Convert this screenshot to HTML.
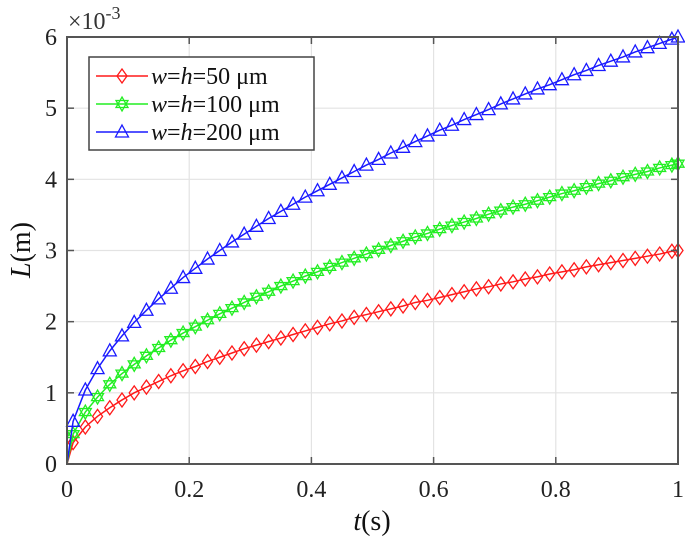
<!DOCTYPE html>
<html><head><meta charset="utf-8"><style>
body{margin:0;background:#fff}
svg{display:block}
svg text{font-family:"Liberation Serif","DejaVu Serif",serif}
</style></head><body>
<svg id="chart" width="685" height="540" viewBox="0 0 685 540" font-family="Liberation Serif, serif">
<g id="grid"></g>
<g id="series"></g>
<rect x="67" y="37" width="611" height="427" fill="none" stroke="#555" stroke-width="2"/>
<g id="ticks" font-size="24" fill="#222"></g>
<text x="68" y="29" font-size="24" fill="#333">×10<tspan font-size="18" dy="-10">-3</tspan></text>
<text transform="translate(30,250) rotate(-90)" text-anchor="middle" font-size="28" fill="#111"><tspan font-style="italic">L</tspan>(m)</text>
<text x="372" y="530" text-anchor="middle" font-size="28" fill="#111"><tspan font-style="italic">t</tspan>(s)</text>
<g>
<rect x="89" y="57" width="225" height="93" fill="#fff" stroke="#444" stroke-width="1.5"/>
<g id="legend-items"></g>
</g>
</svg>
<script>
const tVals=[0,0.01,0.03,0.05,0.07,0.09,0.11,0.13,0.15,0.17,0.19,0.21,0.23,0.25,0.27,0.29,0.31,0.33,0.35,0.37,0.39,0.41,0.43,0.45,0.47,0.49,0.51,0.53,0.55,0.57,0.59,0.61,0.63,0.65,0.67,0.69,0.71,0.73,0.75,0.77,0.79,0.81,0.83,0.85,0.87,0.89,0.91,0.93,0.95,0.97,0.99,1];
const red50=[0,.30,.52,.67,.79,.90,1.00,1.08,1.16,1.24,1.31,1.37,1.44,1.50,1.56,1.62,1.67,1.72,1.77,1.82,1.87,1.92,1.97,2.01,2.06,2.10,2.14,2.18,2.22,2.27,2.30,2.34,2.38,2.42,2.46,2.49,2.53,2.56,2.60,2.63,2.67,2.70,2.73,2.77,2.80,2.83,2.86,2.89,2.92,2.95,2.99,3.00];
const green100=[0,.42,.73,.94,1.12,1.27,1.40,1.52,1.63,1.74,1.84,1.93,2.02,2.11,2.19,2.27,2.35,2.42,2.50,2.57,2.64,2.70,2.77,2.83,2.89,2.95,3.01,3.07,3.13,3.19,3.24,3.30,3.35,3.40,3.45,3.51,3.56,3.61,3.65,3.70,3.75,3.80,3.84,3.89,3.94,3.98,4.03,4.07,4.11,4.16,4.20,4.22];
const blue200=[0,.60,1.04,1.34,1.59,1.80,1.99,2.16,2.32,2.47,2.62,2.75,2.88,3.00,3.12,3.23,3.34,3.45,3.55,3.65,3.75,3.84,3.93,4.02,4.11,4.20,4.28,4.37,4.45,4.53,4.61,4.69,4.76,4.84,4.91,4.98,5.06,5.13,5.20,5.27,5.33,5.40,5.47,5.53,5.60,5.66,5.72,5.79,5.85,5.91,5.97,6.00];
const xTicks=[0,0.2,0.4,0.6,0.8,1];
const xTickLabels=["0","0.2","0.4","0.6","0.8","1"];
const yTicks=[0,1,2,3,4,5,6];
const legendLabels=["50","100","200"];

const NS="http://www.w3.org/2000/svg";
const X0=67,X1=678,Y0=464,Y1=37;
const xs=v=>X0+v*(X1-X0);
const ys=v=>Y0-v/6*(Y0-Y1);
function mk(tag,attrs,parent){const e=document.createElementNS(NS,tag);for(const k in attrs)e.setAttribute(k,attrs[k]);parent.appendChild(e);return e;}
const grid=document.getElementById('grid'),ticks=document.getElementById('ticks'),ser=document.getElementById('series');
xTicks.forEach((v,i)=>{
  const g=mk('line',{x1:xs(v),x2:xs(v),y1:Y1,y2:Y0,stroke:'#e3e3e3','stroke-width':1.2},grid);
  
  
  mk('line',{x1:xs(v),x2:xs(v),y1:Y0,y2:Y0-7,stroke:'#555','stroke-width':1.5},ticks);
  mk('line',{x1:xs(v),x2:xs(v),y1:Y1,y2:Y1+7,stroke:'#555','stroke-width':1.5},ticks);
  const t=mk('text',{x:xs(v),y:Y0+33,'text-anchor':'middle'},ticks);t.textContent=xTickLabels[i];
  
  
});
yTicks.forEach(v=>{
  const g=mk('line',{x1:X0,x2:X1,y1:ys(v),y2:ys(v),stroke:'#e3e3e3','stroke-width':1.2},grid);
  
  
  mk('line',{x1:X0,x2:X0+7,y1:ys(v),y2:ys(v),stroke:'#555','stroke-width':1.5},ticks);
  mk('line',{x1:X1-7,x2:X1,y1:ys(v),y2:ys(v),stroke:'#555','stroke-width':1.5},ticks);
  const t=mk('text',{x:X0-10,y:ys(v)+8,'text-anchor':'end'},ticks);t.textContent=String(v);
  
  
});
function marker(type,x,y,color,parent){
  const a={fill:'none',stroke:color,'stroke-width':1.3};
  if(type==='d')a.points=`${x},${y-7} ${x+5},${y} ${x},${y+7} ${x-5},${y}`;
  else if(type==='t')a.points=`${x},${y-7} ${x+6.5},${y+5} ${x-6.5},${y+5}`;
  if(type==='h'){
    mk('polygon',Object.assign({},a,{points:`${x},${y-7} ${x+6},${y+3.5} ${x-6},${y+3.5}`}),parent);
    return mk('polygon',Object.assign({},a,{points:`${x},${y+7} ${x+6},${y-3.5} ${x-6},${y-3.5}`}),parent);
  }
  return mk('polygon',a,parent);
}
const defs=[[red50,'#ff1a1a','d','series-50um'],[green100,'#22ee22','h','series-100um'],[blue200,'#1a1aff','t','series-200um']];
defs.forEach(([vals,col,m,name])=>{
  const g=mk('g',{},ser);
  
  
  const pl=mk('polyline',{points:vals.map((v,i)=>xs(tVals[i])+','+ys(v)).join(' '),fill:'none',stroke:col,'stroke-width':1.5},g);
  
  
  vals.forEach((v,i)=>{if(i>0)marker(m,xs(tVals[i]),ys(v),col,g);});
});
const li=document.getElementById('legend-items');
defs.forEach(([vals,col,m,name],i)=>{
  const y=76+i*28;
  const g=mk('g',{},li);
  
  
  mk('line',{x1:96,x2:148,y1:y,y2:y,stroke:col,'stroke-width':1.5},g);
  marker(m,122,y,col,g);
  const t=mk('text',{x:151,y:y+8,'font-size':24,fill:'#111'},g);
  t.innerHTML='<tspan font-style="italic">w</tspan>=<tspan font-style="italic">h</tspan>='+legendLabels[i]+' μm';
});
</script>
</body></html>
